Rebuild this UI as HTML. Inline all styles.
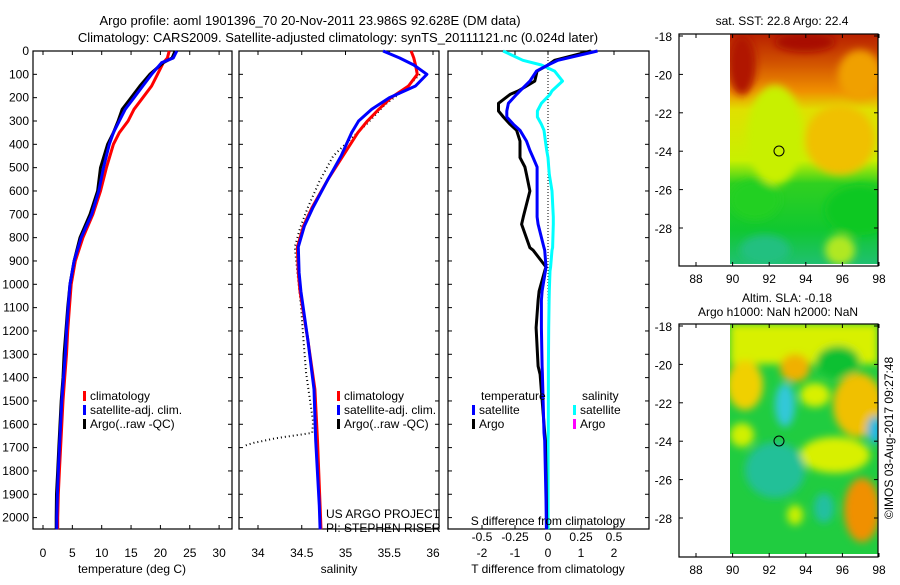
<!DOCTYPE html>
<html><head><meta charset="utf-8"><style>
body{margin:0;background:#fff;width:900px;height:580px;overflow:hidden}
svg{font-family:"Liberation Sans",sans-serif;font-size:12px}
</style></head><body>
<svg id="fig" width="900" height="580" viewBox="0 0 900 580" xmlns="http://www.w3.org/2000/svg">
<defs>
<linearGradient id="sstg" x1="0" y1="0" x2="0" y2="1">
<stop offset="0" stop-color="#b82000"/><stop offset="0.12" stop-color="#d05000"/><stop offset="0.25" stop-color="#f09000"/>
<stop offset="0.33" stop-color="#e0e000"/><stop offset="0.55" stop-color="#c8f000"/><stop offset="0.65" stop-color="#30d020"/>
<stop offset="0.85" stop-color="#10c830"/><stop offset="1" stop-color="#20c070"/></linearGradient>
<filter id="bl" x="-50%" y="-50%" width="200%" height="200%"><feGaussianBlur stdDeviation="4"/></filter>
<clipPath id="c1"><rect x="730" y="34" width="148" height="230"/></clipPath>
<clipPath id="c2"><rect x="730" y="324" width="148" height="230"/></clipPath>
</defs>
<text x="310" y="25" text-anchor="middle" font-size="13">Argo profile: aoml 1901396_70 20-Nov-2011 23.986S 92.628E (DM data)</text>
<text x="338" y="42" text-anchor="middle" font-size="13">Climatology: CARS2009. Satellite-adjusted climatology: synTS_20111121.nc (0.024d later)</text>
<g id="p1"></g>
<g id="p2"></g>
<g id="p3"></g>
<g>
<text x="782" y="25" text-anchor="middle">sat. SST: 22.8 Argo: 22.4</text>
<g clip-path="url(#c1)">
<rect x="730" y="34" width="148" height="230" fill="url(#sstg)"/>
<g filter="url(#bl)">
<ellipse cx="742" cy="65" rx="14" ry="30" fill="#b01800"/>
<ellipse cx="805" cy="42" rx="30" ry="10" fill="#a81000"/>
<ellipse cx="860" cy="75" rx="22" ry="25" fill="#f0a000"/>
<ellipse cx="840" cy="140" rx="35" ry="35" fill="#f0c000"/>
<ellipse cx="775" cy="135" rx="28" ry="50" fill="#c8f000"/>
<ellipse cx="860" cy="210" rx="35" ry="25" fill="#10c820"/>
<ellipse cx="755" cy="200" rx="25" ry="20" fill="#20d020"/>
<ellipse cx="840" cy="250" rx="15" ry="15" fill="#b0e820"/>
<ellipse cx="765" cy="250" rx="25" ry="15" fill="#20c080"/>
</g></g>
<circle cx="779" cy="151" r="5" fill="none" stroke="#000"/>
</g>
<g>
<text x="787" y="302" text-anchor="middle">Altim. SLA: -0.18</text>
<text x="778" y="316" text-anchor="middle">Argo h1000: NaN h2000: NaN</text>
<g clip-path="url(#c2)">
<rect x="730" y="324" width="148" height="230" fill="#20cc40"/>
<g filter="url(#bl)">
<rect x="730" y="324" width="148" height="40" fill="#d8f000"/>
<ellipse cx="745" cy="385" rx="18" ry="25" fill="#f0d000"/>
<ellipse cx="795" cy="368" rx="15" ry="14" fill="#f0b000"/>
<ellipse cx="838" cy="362" rx="22" ry="16" fill="#10c030"/>
<ellipse cx="858" cy="405" rx="25" ry="32" fill="#f0c000"/>
<ellipse cx="815" cy="395" rx="15" ry="12" fill="#d8f000"/>
<ellipse cx="835" cy="455" rx="35" ry="18" fill="#d8f000"/>
<ellipse cx="785" cy="405" rx="10" ry="22" fill="#30c8d8"/>
<ellipse cx="775" cy="470" rx="30" ry="28" fill="#20c098"/>
<ellipse cx="875" cy="430" rx="8" ry="14" fill="#20b8e0"/>
<ellipse cx="862" cy="510" rx="18" ry="32" fill="#f09000"/>
<ellipse cx="742" cy="435" rx="12" ry="12" fill="#d0f000"/>
<ellipse cx="824" cy="508" rx="10" ry="15" fill="#20c0a0"/>
<ellipse cx="795" cy="515" rx="8" ry="10" fill="#c8f000"/>
</g></g>
<circle cx="779" cy="441" r="5" fill="none" stroke="#000"/>
<text transform="translate(893,438) rotate(-90)" text-anchor="middle">©IMOS 03-Aug-2017 09:27:48</text>
</g>
<g id="maps"></g>
</svg>
<script>
// ---- data ----
const depthT = [0,30,50,100,150,200,250,300,350,400,500,600,700,800,900,1000,1100,1200,1300,1400,1500,1600,1700,1800,1900,2000,2050];
const tempClim = [21.5,21.2,20.5,19.5,18.5,17,15.5,14.5,13,12,10.8,9.8,8.5,6.8,5.5,4.8,4.5,4.2,4,3.7,3.4,3.2,3,2.8,2.6,2.5,2.5];
const tempSat = [22.8,22.2,20.2,18.5,17,15.5,14,13,12,11.3,10.3,9.5,8.3,6.5,5.3,4.6,4.3,4.0,3.8,3.5,3.2,3.0,2.8,2.6,2.45,2.35,2.35];
const tempArgo = [22.5,22,20.5,18.2,16.5,15,13.5,12.8,12,11,9.8,9.3,8,6.3,5.3,4.6,4.2,3.9,3.6,3.4,3.1,2.9,2.7,2.5,2.3,2.25,2.25];
const depthS = [0,30,60,100,150,200,250,300,350,450,550,670,750,840,950,1030,1240,1450,1670,1950,2050];
const salClim = [35.75,35.78,35.8,35.82,35.72,35.52,35.38,35.25,35.14,34.97,34.8,34.62,34.52,34.45,34.46,34.48,34.57,34.65,34.68,34.71,34.72];
const salSat = [35.43,35.62,35.78,35.93,35.8,35.5,35.3,35.15,35.07,34.95,34.8,34.63,34.53,34.46,34.47,34.49,34.57,34.64,34.66,34.7,34.71];
const depthSA = [100,170,230,310,380,450,560,670,760,840,950,1090,1240,1380,1590,1637,1660,1680,1694];
const salArgo = [35.85,35.66,35.45,35.25,35.05,34.86,34.7,34.57,34.48,34.42,34.45,34.49,34.52,34.55,34.63,34.62,34.2,33.95,33.83];
const depthD = [0,40,60,86,129,171,186,224,257,283,314,340,386,426,457,497,529,600,711,743,843,854,926,943,1029,1069,1186,1351,1386,1637,1671,1923,2050];
const dTsat = [1.5,0.3,0,-0.35,-0.55,-0.85,-0.95,-1.2,-1.25,-1.25,-1.05,-0.85,-0.65,-0.55,-0.45,-0.33,-0.33,-0.33,-0.33,-0.3,-0.12,-0.1,-0.06,-0.08,-0.18,-0.2,-0.2,-0.18,-0.17,-0.12,-0.1,-0.06,-0.05];
const dTargo = [1.3,0.2,0,-0.33,-0.4,-0.9,-1.15,-1.5,-1.5,-1.35,-1.15,-0.95,-0.85,-0.85,-0.85,-0.7,-0.65,-0.55,-0.75,-0.8,-0.55,-0.45,-0.06,-0.1,-0.27,-0.3,-0.36,-0.3,-0.24,-0.1,-0.08,-0.05,-0.04];
const dSsat = [-0.34,-0.19,-0.05,0.05,0.11,0.03,0.015,-0.05,-0.08,-0.08,-0.05,-0.03,-0.02,-0.01,0,0.005,0.01,0.03,0.04,0.04,0.035,0.03,0.02,0.015,0.01,0.008,0.005,0.003,0.003,0.002,0.001,0.001,0.001];
const tTicks = [0,5,10,15,20,25,30];
const sTicks = [34,34.5,35,35.5,36];
const dTTicks = [-2,-1,0,1,2];
const dSTicks = [-0.5,-0.25,0,0.25,0.5];
const depthTicks = [0,100,200,300,400,500,600,700,800,900,1000,1100,1200,1300,1400,1500,1600,1700,1800,1900,2000];
const lonTicks = [88,90,92,94,96,98];
const latTicks = [-18,-20,-22,-24,-26,-28];

const NS='http://www.w3.org/2000/svg';
function mk(parent,tag,attrs,txt){const e=document.createElementNS(NS,tag);for(const k in attrs)e.setAttribute(k,attrs[k]);if(txt!==undefined)e.textContent=txt;parent.appendChild(e);return e;}
const Y0=51, Y1=529;
const yD = d => Y0 + d*0.2333;
function frame(g,x0,x1,y0,y1){
  const r=mk(g,'rect',{x:x0,y:y0,width:x1-x0,height:y1-y0,fill:'none',stroke:'#000','stroke-width':1.2});
  
  
}
function line(g,xs,ys,fx,fy,color,w,name,dash){
  const pts=xs.map((v,i)=>fx(v).toFixed(1)+','+fy(ys[i]).toFixed(1)).join(' ');
  const p=mk(g,'polyline',{points:pts,fill:'none',stroke:color,'stroke-width':w,'stroke-linejoin':'round'});
  if(dash)p.setAttribute('stroke-dasharray',dash);
  
  
}
function depthTickMarks(g,x0,x1,labels){
  depthTicks.forEach(d=>{const y=yD(d);
    mk(g,'line',{x1:x0,y1:y,x2:x0+4,y2:y,stroke:'#000'});
    mk(g,'line',{x1:x1,y1:y,x2:x1-4,y2:y,stroke:'#000'});
    if(labels){const t=mk(g,'text',{x:x0-4,y:y+4,'text-anchor':'end'},String(d));
      
      }
  });
}
function xTicks(g,ticks,fx,ylab,labelFmt){
  ticks.forEach(v=>{const x=fx(v);
    mk(g,'line',{x1:x,y1:Y1,x2:x,y2:Y1-4,stroke:'#000'});
    mk(g,'line',{x1:x,y1:Y0,x2:x,y2:Y0+4,stroke:'#000'});
    if(ylab){const t=mk(g,'text',{x:x,y:ylab,'text-anchor':'middle'},labelFmt?labelFmt(v):String(v));
      
      }
  });
}
function legend(g,x,y,items){
  items.forEach((it,i)=>{
    const r=mk(g,'rect',{x:x,y:y+i*14-9,width:3,height:10,fill:it[1]});
    
    
    const t=mk(g,'text',{x:x+7,y:y+i*14},it[0]);
    
    
  });
}
// panel 1
const p1=document.getElementById('p1');
const fT=t=>43+t*5.87;
frame(p1,33,232,Y0,Y1); depthTickMarks(p1,33,232,true); xTicks(p1,tTicks,fT,557);
line(p1,tempClim,depthT,fT,yD,'#f00',3,'temp-climatology-line');
line(p1,tempArgo,depthT,fT,yD,'#000',3,'temp-argo-line');
line(p1,tempSat,depthT,fT,yD,'#00f',3,'temp-satellite-line');
{const t=mk(p1,'text',{x:132,y:573,'text-anchor':'middle'},'temperature (deg C)');}
legend(p1,83,400,[['climatology','#f00'],['satellite-adj. clim.','#00f'],['Argo(..raw -QC)','#000']]);
// panel 2
const p2=document.getElementById('p2');
const fS=s=>258+(s-34)*87.5;
frame(p2,239,439,Y0,Y1); depthTickMarks(p2,239,439,false); xTicks(p2,sTicks,fS,557);
line(p2,salArgo,depthSA,fS,yD,'#000',2,'sal-argo-line','1 3');
line(p2,salClim,depthS,fS,yD,'#f00',3,'sal-climatology-line');
line(p2,salSat,depthS,fS,yD,'#00f',3,'sal-satellite-line');
{const t=mk(p2,'text',{x:339,y:573,'text-anchor':'middle'},'salinity');}
legend(p2,337,400,[['climatology','#f00'],['satellite-adj. clim.','#00f'],['Argo(..raw -QC)','#000']]);
{const t=mk(p2,'text',{x:326,y:518},'US ARGO PROJECT');
 const u=mk(p2,'text',{x:326,y:532},'PI: STEPHEN RISER');}
// panel 3
const p3=document.getElementById('p3');
const fDT=v=>548+v*33;
const fDS=v=>548+v*132;
frame(p3,448,649,Y0,Y1); depthTickMarks(p3,448,649,false); xTicks(p3,dTTicks,fDT,557);
mk(p3,'line',{x1:548,y1:Y0,x2:548,y2:Y1,stroke:'#000','stroke-dasharray':'1 2'});
line(p3,dSsat,depthD,fDS,yD,'#0ff',3,'sdiff-satellite-line');
line(p3,dTargo,depthD,fDT,yD,'#000',3,'tdiff-argo-line');
line(p3,dTsat,depthD,fDT,yD,'#00f',3,'tdiff-satellite-line');
dSTicks.forEach(v=>{const t=mk(p3,'text',{x:fDS(v),y:541,'text-anchor':'middle'},String(v));});
{const t=mk(p3,'text',{x:548,y:525,'text-anchor':'middle'},'S difference from climatology');
 const u=mk(p3,'text',{x:548,y:573,'text-anchor':'middle'},'T difference from climatology');
 const a=mk(p3,'text',{x:481,y:400},'temperature');
 const b=mk(p3,'text',{x:582,y:400},'salinity');}
legend(p3,472,414,[['satellite','#00f'],['Argo','#000']]);
legend(p3,573,414,[['satellite','#0ff'],['Argo','#f0f']]);
// maps axes
const mg=document.getElementById('maps');
[[34,266],[324,557]].forEach(([t,b])=>{
  frame(mg,679,878,t,b);
  const fLon=l=>696+(l-88)*18.3, fLat=l=>t+2+(-18-l)*19.2;
  lonTicks.forEach(l=>{const x=fLon(l);mk(mg,'line',{x1:x,y1:b,x2:x,y2:b-4,stroke:'#000'});mk(mg,'line',{x1:x,y1:t,x2:x,y2:t+4,stroke:'#000'});
    const e=mk(mg,'text',{x:x,y:b+17,'text-anchor':'middle'},String(l));});
  latTicks.forEach(l=>{const y=fLat(l);mk(mg,'line',{x1:679,y1:y,x2:683,y2:y,stroke:'#000'});mk(mg,'line',{x1:878,y1:y,x2:874,y2:y,stroke:'#000'});
    const e=mk(mg,'text',{x:672,y:y+5,'text-anchor':'end'},String(l));});
});
</script>
</body></html>
